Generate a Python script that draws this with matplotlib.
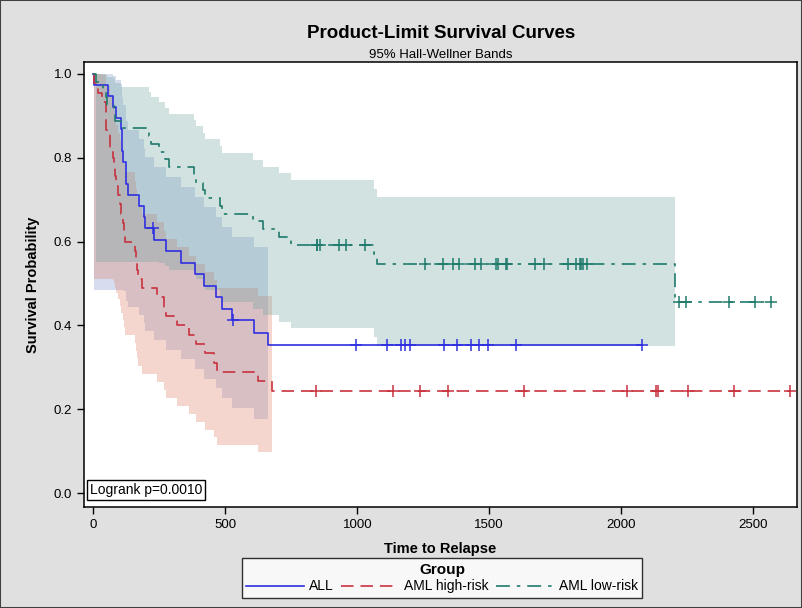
import numpy as np
import matplotlib
matplotlib.use("Agg")
from matplotlib import pyplot as plt
from matplotlib.patches import Rectangle

plt.rcParams['font.family'] = ['Liberation Sans', 'DejaVu Sans']
plt.rcParams['lines.scale_dashes'] = False

# BMT data: time to relapse (days) and status (1 = event, 0 = censored)
all_time = [2081, 1602, 1496, 1462, 1433, 1377, 1330, 996, 226, 1199, 1111, 530, 1182, 1167,
            418, 383, 276, 104, 609, 172, 487, 662, 194, 230, 526, 122, 129, 74, 122, 86,
            466, 192, 109, 55, 1, 107, 110, 332]
all_status = [0] * 14 + [1] * 24

high_time = [2640, 2430, 2252, 2140, 2133, 1238, 1631, 2024, 1345, 1136, 845,
             422, 162, 84, 100, 2, 47, 242, 456, 268, 318, 32, 467, 47, 390, 183, 105,
             115, 164, 93, 120, 80, 677, 64, 168, 74, 16, 157, 625, 48, 273, 63, 76, 113, 363]
high_status = [0] * 11 + [1] * 34

low_time = [2569, 2506, 2409, 2218, 1857, 1829, 1562, 1470, 1363, 1030, 860, 1258, 2246,
            1870, 1799, 1709, 1674, 1568, 1527, 1324, 957, 932, 847, 848, 1850, 1843, 1535,
            1447, 1384, 414, 2204, 1063, 481, 105, 641, 390, 288, 421, 79, 748, 486, 48, 272,
            1074, 381, 10, 53, 80, 35, 248, 704, 211, 219, 606]
low_status = [0] * 29 + [1] * 25

groups = ['ALL', 'AML high-risk', 'AML low-risk']
# approx. Hall-Wellner critical values (95%) for each group
hw_crit = [1.30, 1.33, 1.32]

line_colors = ['#2f2fe0', '#c8323f', '#1f7a6c']
band_colors = ['#7a91cd', '#de7a62', '#69a29e']
dash_styles = ['-', (0, (9, 5)), (0, (10, 5, 2.5, 5))]


def kaplan_meier(times, status):
    t = np.asarray(times, float)
    e = np.asarray(status, int)
    ev_times = np.unique(t[e == 1])
    s, var = 1.0, 0.0
    surv, sig2 = [], []
    for u in ev_times:
        r = np.sum(t >= u)
        d = np.sum((t == u) & (e == 1))
        s *= 1 - d / r
        var += d / (r * (r - d))
        surv.append(s)
        sig2.append(var)
    return ev_times, np.array(surv), np.array(sig2)


def hall_wellner(surv, sig2, n, c):
    # log-log transformed bands
    theta = c * (1 + n * sig2) / (np.sqrt(n) * np.log(surv))
    lower = surv ** np.exp(-theta)
    upper = surv ** np.exp(theta)
    lower = np.maximum.accumulate(lower[::-1])[::-1]
    upper = np.minimum.accumulate(upper)
    return lower, upper


fig = plt.figure(figsize=(8.02, 6.08), dpi=100, facecolor='#e0e0e0')
ax = fig.add_axes([84 / 802, 101 / 608, 713 / 802, 445 / 608])

data = [(all_time, all_status), (high_time, high_status), (low_time, low_status)]

for i, (tm, st) in enumerate(data):
    ev, surv, sig2 = kaplan_meier(tm, st)
    lo, up = hall_wellner(surv, sig2, len(tm), hw_crit[i])
    ax.fill_between(ev, lo, up, step='post', color=band_colors[i], alpha=0.3, lw=0)

handles = []
for i, (tm, st) in enumerate(data):
    ev, surv, sig2 = kaplan_meier(tm, st)
    x = np.concatenate([[0], ev, [max(tm)]])
    y = np.concatenate([[1], surv, [surv[-1]]])
    h, = ax.step(x, y, where='post', color=line_colors[i], lw=1.2, linestyle=dash_styles[i],
                 label=groups[i])
    handles.append(h)
    cens = np.array([t for t, s in zip(tm, st) if s == 0], float)
    idx = np.searchsorted(ev, cens, side='right') - 1
    cy = np.where(idx >= 0, surv[np.clip(idx, 0, None)], 1.0)
    ax.plot(cens, cy, linestyle='none', marker='+', ms=8, mew=1.1, color=line_colors[i])

ax.set_xlim(-36, 2667)
ax.set_ylim(-0.0334, 1.0286)
ax.set_xticks([0, 500, 1000, 1500, 2000, 2500])
ax.set_yticks([0.0, 0.2, 0.4, 0.6, 0.8, 1.0])
ax.set_yticklabels(['0.0', '0.2', '0.4', '0.6', '0.8', '1.0'])
ax.tick_params(labelsize=9.5, length=5, width=1, direction='out')
for sp in ax.spines.values():
    sp.set_linewidth(1.1)

ax.set_xlabel('Time to Relapse', fontsize=10.5, fontweight='bold', labelpad=8)
ax.set_ylabel('Survival Probability', fontsize=10.5, fontweight='bold', labelpad=10)

ax.text(0.0085, 0.022, 'Logrank p=0.0010', transform=ax.transAxes, fontsize=10,
        ha='left', va='bottom',
        bbox=dict(boxstyle='square,pad=0.2', fc='white', ec='black', lw=1))

fig.text(441 / 802, 1 - 33 / 608, 'Product-Limit Survival Curves', ha='center', va='center',
         fontsize=13.5, fontweight='bold')
fig.text(441 / 802, 1 - 55 / 608, '95% Hall-Wellner Bands', ha='center', va='center', fontsize=9.5)

leg = fig.legend(handles=handles, loc='center', bbox_to_anchor=(442 / 802, 1 - 578 / 608),
                 ncol=3, fontsize=10, title='Group', frameon=True, fancybox=False,
                 edgecolor='black', handlelength=4.2, handletextpad=0.35, columnspacing=0.5,
                 borderpad=0.3, labelspacing=0.2)
leg.get_title().set_fontweight('bold')
leg.get_title().set_fontsize(11)
leg.get_frame().set_linewidth(1)

fig.patches.append(Rectangle((0, 0), 1, 1, transform=fig.transFigure, fill=False,
                             ec='#404040', lw=1.5))

fig.savefig('out.png', dpi=100, facecolor=fig.get_facecolor())
